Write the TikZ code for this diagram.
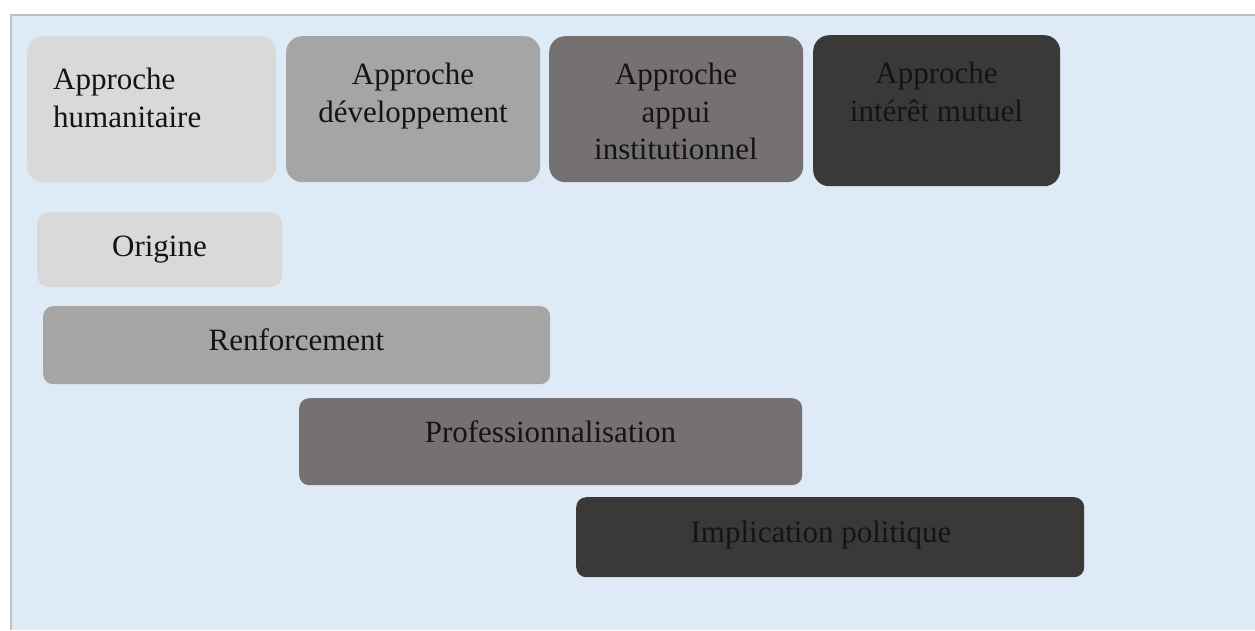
\documentclass[tikz,border=0pt]{standalone}
\usepackage{fontspec}
\setmainfont{Liberation Serif}
\usetikzlibrary{positioning}
\definecolor{fond}{HTML}{DEEAF6}
\definecolor{cadre}{HTML}{BFBFBF}
\definecolor{gris1}{HTML}{D9D9D9}
\definecolor{gris2}{HTML}{A5A5A5}
\definecolor{gris3}{HTML}{757171}
\definecolor{gris4}{HTML}{3B3838}

\begin{document}
\begin{tikzpicture}
  [x=1pt,y=-1pt,
   bloc/.style={rectangle,rounded corners=16pt,inner sep=0pt,anchor=north west},
   barre/.style={bloc,rounded corners=10pt},
   texte/.style={inner sep=0pt,font=\fontsize{31}{37.5}\selectfont,text=black!92}]
  \useasboundingbox (0,0) rectangle (1255,630);
  \fill[fond] (11,15) rectangle (1255,630);
  \draw[cadre,line width=1.5pt] (11,630) -- (11,15) -- (1255,15);

  % les quatre approches
  \node[bloc,fill=gris1,minimum width=249pt,minimum height=146pt] (hum) at (27,36) {};
  \node[bloc,fill=gris2,minimum width=254pt,minimum height=146pt] (dev) at (286,36) {};
  \node[bloc,fill=gris3,minimum width=254pt,minimum height=146pt] (appui) at (549,36) {};
  \node[bloc,fill=gris4,minimum width=247pt,minimum height=151pt] (mutuel) at (813,35) {};

  \node[texte,anchor=north west,align=left] (humT) at (53,68) {Approche\\humanitaire};
  \node[texte,anchor=north,align=center] (devT) at (413,63) {Approche\\développement};
  \node[texte,anchor=north,align=center] (appuiT) at (676,63) {Approche\\appui\\institutionnel};
  \node[texte,anchor=north,align=center] (mutuelT) at (936.5,62) {Approche\\intérêt mutuel};

  % les phases
  \node[barre,rounded corners=12pt,fill=gris1,minimum width=245pt,minimum height=75pt] (orig) at (37,212) {};
  \node[barre,fill=gris2,minimum width=507pt,minimum height=78pt] (renf) at (43,306) {};
  \node[barre,fill=gris3,minimum width=503pt,minimum height=87pt] (prof) at (299,398) {};
  \node[barre,fill=gris4,minimum width=508pt,minimum height=80pt] (impl) at (576,497) {};

  \node[texte,anchor=base] (origT) at (159.5,256) {Origine};
  \node[texte,anchor=base] (renfT) at (296.5,350) {Renforcement};
  \node[texte,anchor=base] (profT) at (550.5,442) {Professionnalisation};
  \node[texte,anchor=base] (implT) at (821,542) {Implication politique};
\end{tikzpicture}
\end{document}
